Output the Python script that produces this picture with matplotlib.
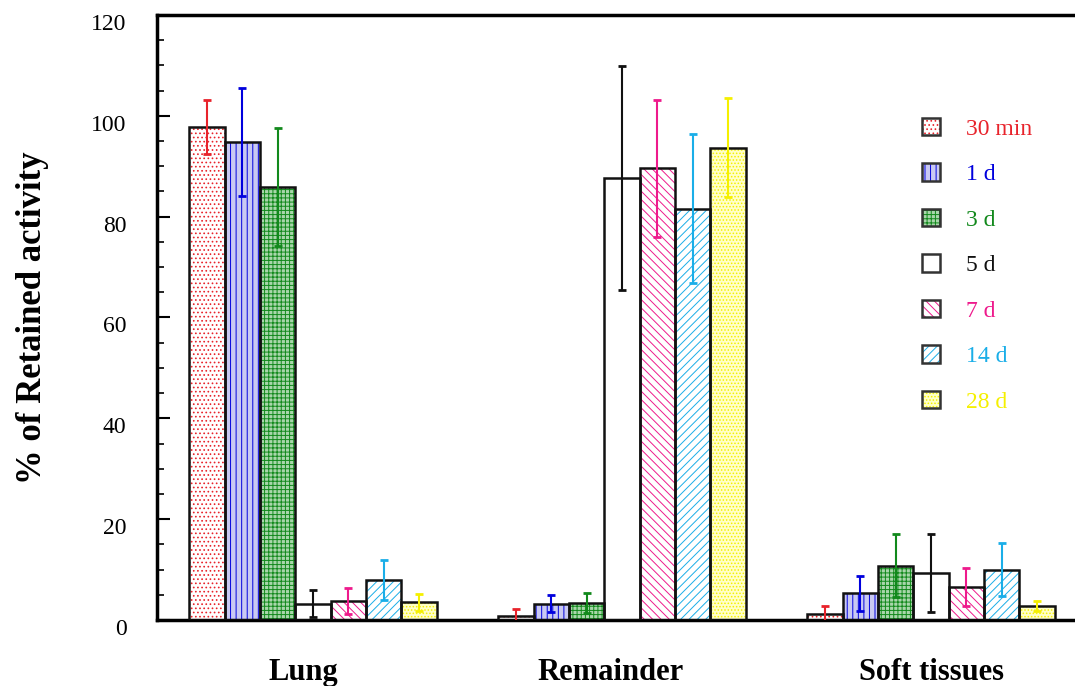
import matplotlib
matplotlib.use("Agg")
import matplotlib.pyplot as plt
import matplotlib.transforms as mtransforms
import numpy as np
from matplotlib.legend_handler import HandlerTuple
from matplotlib.patches import Rectangle

# data
categories = ["Lung", "Remainder", "Soft tissues"]
series = ["30 min", "1 d", "3 d", "5 d", "7 d", "14 d", "28 d"]
means = {
    "30 min": [97.8, 0.7, 1.1],
    "1 d": [94.8, 3.2, 5.3],
    "3 d": [85.9, 3.3, 10.8],
    "5 d": [3.2, 87.7, 9.3],
    "7 d": [3.8, 89.6, 6.6],
    "14 d": [8.0, 81.6, 10.0],
    "28 d": [3.5, 93.7, 2.8],
}
errors = {
    "30 min": [5.3, 1.4, 1.7],
    "1 d": [10.8, 1.7, 3.5],
    "3 d": [11.7, 2.0, 6.2],
    "5 d": [2.7, 22.2, 7.7],
    "7 d": [2.6, 13.6, 3.8],
    "14 d": [4.0, 14.8, 5.3],
    "28 d": [1.7, 9.8, 1.0],
}

# style: line colour, face colour, hatch
styles = {
    "30 min": ("#e8232b", "white", "...."),
    "1 d": ("#0000dd", "#c9c9f2", "|||"),
    "3 d": ("#12891c", "#a9d6ab", "++++"),
    "5 d": ("#111111", "white", None),
    "7 d": ("#ee1a8c", "white", "\\\\\\\\"),
    "14 d": ("#1aaee8", "white", "////"),
    "28 d": ("#f5f000", "#ffffc8", "....."),
}

plt.rcParams['font.family'] = ['Liberation Serif', 'DejaVu Serif']
plt.rcParams['hatch.linewidth'] = 0.7

fig = plt.figure(figsize=(10.75, 6.86), dpi=100)
ax = fig.add_axes([0.146, 0.0962, 0.854, 0.882])

x = np.arange(len(categories))
width = 0.8 / len(series)
handles = []
for i, s in enumerate(series):
    col, face, hatch = styles[s]
    pos = x - 0.4 + width * (i + 0.5)
    ax.bar(pos, means[s], width, color=face, edgecolor=col, hatch=hatch,
           linewidth=0, zorder=2)
    ax.bar(pos, means[s], width, fill=False, edgecolor='#111111',
           linewidth=1.8, zorder=3)
    ax.errorbar(pos, means[s], yerr=errors[s], fmt='none', ecolor=col,
                elinewidth=1.5, capsize=3.2, capthick=2, zorder=4)
    p1 = Rectangle((0, 0), 1, 1, facecolor=face, edgecolor=col, hatch=hatch, linewidth=0)
    p2 = Rectangle((0, 0), 1, 1, fill=False, edgecolor='#333333', linewidth=1.8)
    handles.append((p1, p2))

ax.set_xlim(-0.505, 2.466)
ax.set_ylim(0, 120)
ax.set_yticks(np.arange(0, 121, 20))
ax.set_yticks(np.arange(0, 121, 5), minor=True)
ax.set_xticks(x)
ax.set_xticklabels(categories, fontsize=22, fontweight='bold')
ax.tick_params(axis='x', length=0, pad=27)
ax.tick_params(axis='y', which='major', direction='in', length=9, width=1.5,
               labelsize=17, pad=22)
ax.tick_params(axis='y', which='minor', direction='in', length=5, width=1.2)
# tick labels sit a little below their ticks in the reference
shift = mtransforms.ScaledTranslation(0, -7 / 100, fig.dpi_scale_trans)
for lab in ax.get_yticklabels():
    lab.set_transform(lab.get_transform() + shift)
xshift = [-10, -11, 0]
for lab, dx in zip(ax.get_xticklabels(), xshift):
    lab.set_transform(lab.get_transform() + mtransforms.ScaledTranslation(dx / 100, 0, fig.dpi_scale_trans))
for side in ['left', 'top', 'bottom']:
    ax.spines[side].set_linewidth(2.5)
ax.spines['right'].set_visible(False)
ax.set_ylabel('% of Retained activity', fontsize=25, fontweight='bold', labelpad=30)

leg = ax.legend(handles, series, handler_map={tuple: HandlerTuple(ndivide=1)},
                loc='upper left', bbox_to_anchor=(0.81, 0.865), frameon=False,
                fontsize=17, handlelength=0.75, handleheight=0.75,
                labelspacing=1.0, handletextpad=1.1)
for t, s in zip(leg.get_texts(), series):
    t.set_color(styles[s][0])

fig.savefig('out.png', dpi=100)
